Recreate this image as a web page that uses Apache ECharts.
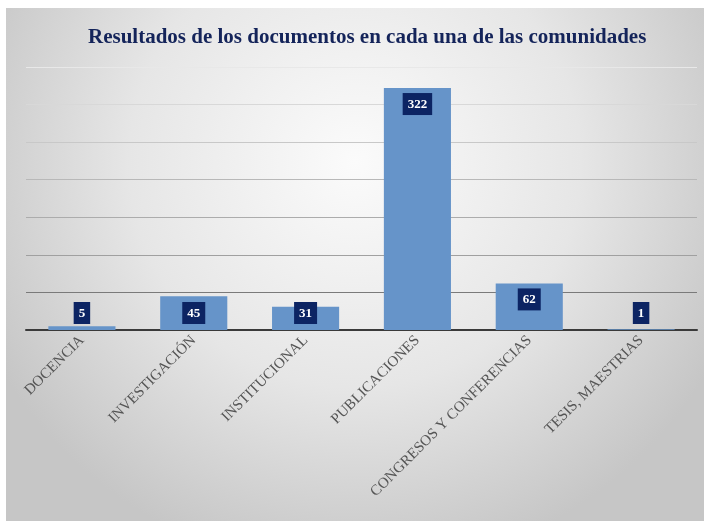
<!DOCTYPE html>
<html>
<head>
<meta charset="utf-8">
<script src="https://cdn.jsdelivr.net/npm/echarts@6/dist/echarts.min.js"></script>
<style>
  html, body { margin: 0; padding: 0; background: #fff; }
  #container { width: 704px; height: 521px; }
</style>
</head>
<body>
<div id="container"></div>
<script>
// datos
var categories = ['DOCENCIA', 'INVESTIGACIÓN', 'INSTITUCIONAL', 'PUBLICACIONES', 'CONGRESOS Y CONFERENCIAS', 'TESIS, MAESTRIAS'];
var values = [5, 45, 31, 322, 62, 1];
var yMax = 350;
var yStep = 50;

var chart = echarts.init(document.getElementById('container'));

// etiquetas: dentro arriba si la barra es alta, si no abajo
var seriesData = values.map(function (v) {
  return {
    value: v,
    label: { position: v >= 50 ? 'insideTop' : 'insideBottom', distance: v >= 50 ? 5 : 6 }
  };
});

var option = {
  backgroundColor: '#fff',
  animation: false,
  graphic: [{
    type: 'rect',
    z: -10,
    left: 6,
    top: 8,
    shape: { width: 698, height: 513 },
    style: {
      fill: new echarts.graphic.RadialGradient(0.5, 0.3, 0.8, [
        { offset: 0, color: '#fbfbfb' },
        { offset: 0.55, color: '#e6e6e6' },
        { offset: 1, color: '#c6c6c6' }
      ])
    }
  }],
  title: {
    text: 'Resultados de los documentos en cada una de las comunidades',
    left: 83,
    top: 22,
    textStyle: {
      fontFamily: 'Liberation Serif',
      fontWeight: 'bold',
      fontSize: 21,
      color: '#14245a'
    }
  },
  grid: {
    left: 26,
    right: 7,
    top: 67,
    bottom: 191,
    containLabel: false
  },
  xAxis: {
    type: 'category',
    data: categories,
    axisLine: { lineStyle: { color: '#3a3a3a', width: 2 } },
    axisTick: { show: false },
    axisLabel: {
      interval: 0,
      rotate: 45,
      margin: 8,
      fontFamily: 'Liberation Serif',
      fontSize: 15,
      color: '#555555'
    }
  },
  yAxis: {
    type: 'value',
    min: 0,
    max: yMax,
    interval: yStep,
    axisLine: { show: false },
    axisTick: { show: false },
    axisLabel: { show: false },
    splitLine: {
      lineStyle: {
        width: 1.2,
        color: ['#3a3a3a', '#7a7a7a', '#a0a0a0', '#acacac', '#b8b8b8', '#c8c8c8', '#d8d8d8', '#e8e8e8']
      }
    }
  },
  series: [{
    type: 'bar',
    data: seriesData,
    barWidth: '60%',
    itemStyle: { color: '#6694c9' },
    label: {
      show: true,
      fontFamily: 'Liberation Serif',
      fontWeight: 'bold',
      fontSize: 13,
      color: '#ffffff',
      backgroundColor: '#0c2463',
      padding: [5, 5, 4, 5]
    }
  }]
};

chart.setOption(option);
</script>
</body>
</html>
